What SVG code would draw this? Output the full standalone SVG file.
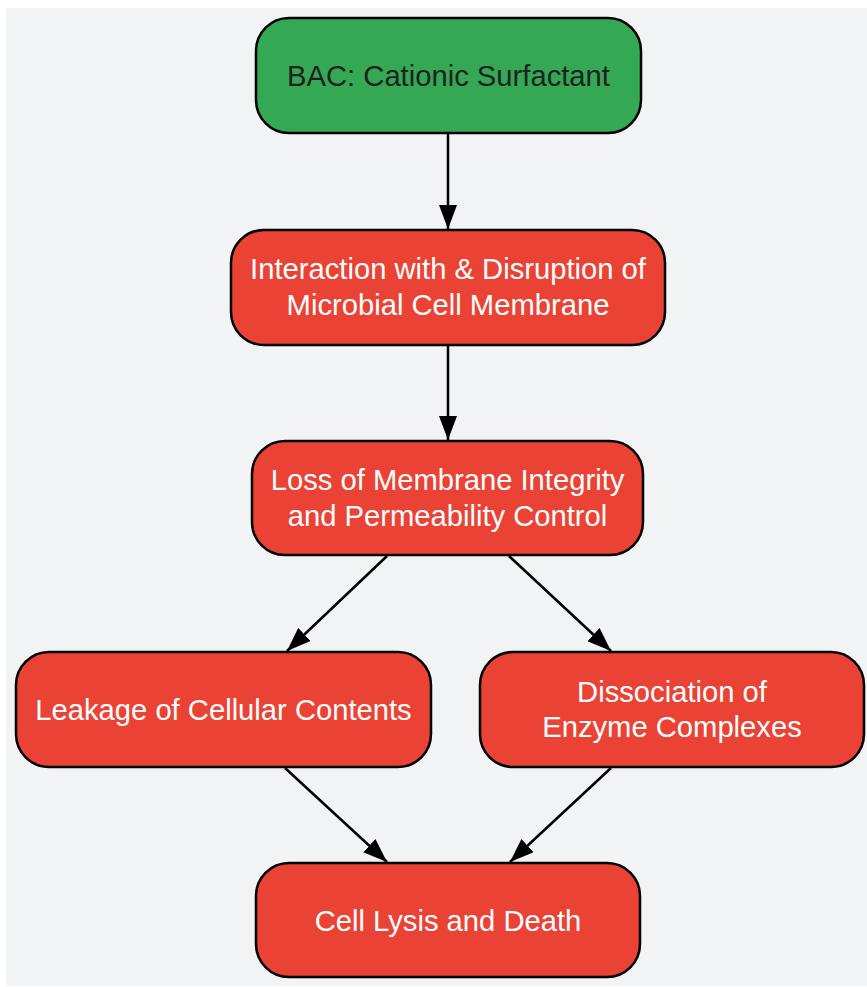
<svg xmlns="http://www.w3.org/2000/svg" width="867" height="987" viewBox="0 0 867 987">
  <style>
    .node rect { stroke: #000000; stroke-width: 2.5; }
    .red rect { fill: #ea4335; }
    .green rect { fill: #34a853; }
    .node text { font-family: "Liberation Sans", Arial, sans-serif; font-size: 29.2px; text-anchor: middle; }
    .red text { fill: #ffffff; }
    .green text { fill: #202124; }
    .edge { stroke: #000000; stroke-width: 2.5; fill: none; marker-end: url(#arrow); }
  </style>
  <defs>
    <marker id="arrow" viewBox="0 0 24 18" refX="24" refY="9" markerWidth="24" markerHeight="18" markerUnits="userSpaceOnUse" orient="auto">
      <path d="M0,0 L24,9 L0,18 Z" fill="#000000"/>
    </marker>
  </defs>
  <rect x="6" y="8" width="861" height="978" fill="#f1f3f5"/>
  <g id="connectors">
    <line class="edge" x1="448" y1="134" x2="448" y2="229"/>
    <line class="edge" x1="448" y1="346" x2="448" y2="440"/>
    <line class="edge" x1="387" y1="556" x2="287" y2="651"/>
    <line class="edge" x1="509" y1="556" x2="611" y2="651"/>
    <line class="edge" x1="285" y1="768" x2="387" y2="862"/>
    <line class="edge" x1="611" y1="768" x2="510" y2="862"/>
  </g>
  <g id="node-bac" class="node green">
    <rect x="256" y="18" width="385" height="115" rx="33" ry="33"/>
    <text x="448.5" y="86">BAC: Cationic Surfactant</text>
  </g>
  <g id="node-interaction" class="node red">
    <rect x="231" y="230" width="434" height="115" rx="33" ry="33"/>
    <text x="448" y="279">Interaction with &amp; Disruption of</text>
    <text x="448" y="314.5">Microbial Cell Membrane</text>
  </g>
  <g id="node-loss" class="node red">
    <rect x="252" y="441" width="391" height="114" rx="33" ry="33"/>
    <text x="447.5" y="490">Loss of Membrane Integrity</text>
    <text x="447.5" y="525.5">and Permeability Control</text>
  </g>
  <g id="node-leakage" class="node red">
    <rect x="16" y="652" width="415" height="115" rx="33" ry="33"/>
    <text x="223.5" y="720">Leakage of Cellular Contents</text>
  </g>
  <g id="node-dissociation" class="node red">
    <rect x="480" y="652" width="384" height="115" rx="33" ry="33"/>
    <text x="672" y="701.5">Dissociation of</text>
    <text x="672" y="737">Enzyme Complexes</text>
  </g>
  <g id="node-lysis" class="node red">
    <rect x="256" y="863" width="384" height="114" rx="33" ry="33"/>
    <text x="448" y="930.5">Cell Lysis and Death</text>
  </g>
</svg>
